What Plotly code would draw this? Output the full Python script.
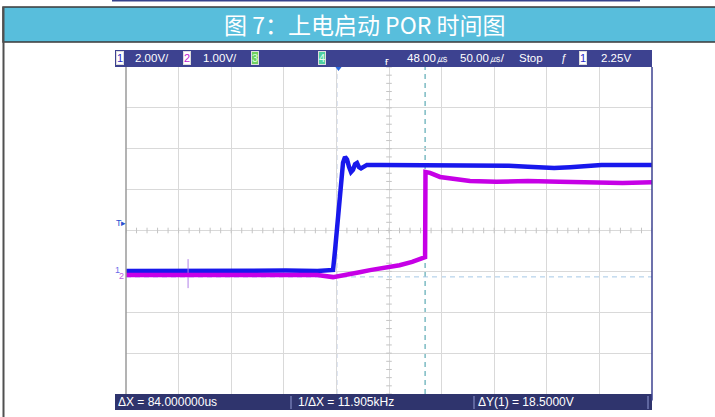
import plotly.graph_objects as go

# ---------------- scope settings ----------------
t_center = 48.0          # µs at screen centre
t_per_div = 50.0         # µs / div
n_xdiv, n_ydiv = 10, 8
ch1_v_per_div = 2.0
ch2_v_per_div = 1.0
ch1_ground_div = 3.01    # ground marker height above bottom, in divisions
ch2_ground_div = 2.91

# ---------------- data ----------------
ch1_t = [-202, -150, -100, -50, -20, -8, -5.2, -3.3, -1.4, 0.5, 2.4, 4.3, 6.2, 8.1, 10.0,
         11.9, 13.8, 15.7, 17.6, 19.5, 21.4, 23.3, 27, 40, 80, 120, 150, 162, 180, 195,
         205, 220, 235, 250, 270, 298]
ch1_v = [0.0, 0.02, 0.0, 0.02, 0.0, 0.02, 0.05, 1.0, 2.0, 3.1, 4.45, 5.3, 5.58, 5.45, 5.1,
         4.84, 4.95, 5.22, 5.28, 5.08, 5.02, 5.1, 5.19, 5.19, 5.19, 5.19, 5.19, 5.15, 5.1, 5.06,
         5.04, 5.08, 5.14, 5.19, 5.19, 5.19]

ch2_t = [-202, -150, -100, -50, -20, -5.2, 0, 6.2, 20, 30, 45, 58, 70, 81, 82.3, 82.7,
         87, 96.5, 110.7, 125, 150, 180, 210, 240, 270, 298]
ch2_v = [0.0, 0.0, 0.0, 0.0, 0.0, -0.05, -0.03, 0.0, 0.07, 0.12, 0.18, 0.24, 0.32, 0.42, 0.44,
         2.52, 2.50, 2.40, 2.35, 2.30, 2.28, 2.30, 2.28, 2.27, 2.25, 2.27]

glitch_t = [-143, -143]
glitch_v = [0.39, -0.32]

cursor_t = [-1.7, 82.3]          # X cursors (ΔX = 84 µs)
cursor_y_ch1 = -0.29             # Y cursor on channel 1

top_labels = ["2.00V/", "1.00V/", "48.00㎲", "50.00㎲/", "Stop", "2.25V"]
bottom_labels = ["ΔX = 84.000000us", "1/ΔX = 11.905kHz", "ΔY(1) = 18.5000V"]
title_text = "图 7：上电启动 POR 时间图"

# ---------------- geometry helpers (pixel -> paper) ----------------
W, H = 715, 417
L, R, T, B = 126, 652, 67, 394


def px(x):
    return (x - L) / (R - L)


def py(y):
    return (B - y) / (B - T)


x_range = [t_center - n_xdiv / 2 * t_per_div, t_center + n_xdiv / 2 * t_per_div]
y1_range = [-ch1_ground_div * ch1_v_per_div, (n_ydiv - ch1_ground_div) * ch1_v_per_div]
y2_range = [-ch2_ground_div * ch2_v_per_div, (n_ydiv - ch2_ground_div) * ch2_v_per_div]
y1_center = (y1_range[0] + y1_range[1]) / 2

BLUE = "#1818ec"
MAG = "#c600e6"

fig = go.Figure()

# centre-line minor ticks
mx = [t_center + k * t_per_div / 5 for k in range(-25, 26)]
fig.add_trace(go.Scatter(x=mx, y=[y1_center] * len(mx), mode="markers",
                         marker=dict(symbol="line-ns", size=4, line=dict(width=1, color="#c4c4c4")),
                         hoverinfo="skip", showlegend=False))
my = [y1_center + k * ch1_v_per_div / 5 for k in range(-20, 21)]
fig.add_trace(go.Scatter(x=[t_center] * len(my), y=my, mode="markers",
                         marker=dict(symbol="line-ew", size=4, line=dict(width=1, color="#c4c4c4")),
                         hoverinfo="skip", showlegend=False))

fig.add_trace(go.Scatter(x=glitch_t, y=glitch_v, yaxis="y2", mode="lines",
                         line=dict(color="#b080e8", width=1), hoverinfo="skip", showlegend=False))
fig.add_trace(go.Scatter(x=ch2_t, y=ch2_v, yaxis="y2", mode="lines",
                         line=dict(color=MAG, width=4.5), showlegend=False, name="CH2"))
fig.add_trace(go.Scatter(x=ch1_t, y=ch1_v, mode="lines",
                         line=dict(color=BLUE, width=4.5), showlegend=False, name="CH1"))

shapes = []
# top thin line of previous table
shapes.append(dict(type="line", xref="paper", yref="paper", x0=px(112), x1=px(640), y0=py(0.5), y1=py(0.5),
                   line=dict(color="#34418c", width=2)))
# title bar
shapes.append(dict(type="rect", xref="paper", yref="paper", x0=px(3), x1=px(717), y0=py(42), y1=py(7),
                   fillcolor="#58bedc", line=dict(color="#3a3a3a", width=1.5), layer="above"))
# left document border
shapes.append(dict(type="line", xref="paper", yref="paper", x0=px(3.5), x1=px(3.5), y0=py(7), y1=py(420),
                   line=dict(color="#505050", width=2)))
# scope top bar
shapes.append(dict(type="rect", xref="paper", yref="paper", x0=px(115), x1=px(652), y0=py(67), y1=py(50),
                   fillcolor="#3d4290", line=dict(width=0), layer="above"))
# scope bottom bar
shapes.append(dict(type="rect", xref="paper", yref="paper", x0=px(115), x1=px(652), y0=py(410), y1=py(394),
                   fillcolor="#2f346d", line=dict(width=0), layer="above"))
for sx in [291, 474, 648]:
    shapes.append(dict(type="line", xref="paper", yref="paper", x0=px(sx), x1=px(sx), y0=py(409), y1=py(396),
                       line=dict(color="#7077b0", width=1.5), layer="above"))
# grid frame
shapes.append(dict(type="line", xref="paper", yref="paper", x0=0, x1=0, y0=0, y1=1,
                   line=dict(color="#9a9a9a", width=1.5), layer="above"))
shapes.append(dict(type="line", xref="paper", yref="paper", x0=1, x1=1, y0=-0.02, y1=1,
                   line=dict(color="#3d4290", width=1.5), layer="above"))
# cursors
shapes.append(dict(type="line", xref="x", yref="paper", x0=cursor_t[0], x1=cursor_t[0], y0=0, y1=1,
                   line=dict(color="#6f8fc8", width=1, dash="5px,4px"), layer="between"))
shapes.append(dict(type="line", xref="x", yref="paper", x0=cursor_t[1], x1=cursor_t[1], y0=0, y1=1,
                   line=dict(color="#3a98a4", width=1, dash="5px,4px"), layer="between"))
shapes.append(dict(type="line", xref="paper", yref="y", x0=0, x1=1, y0=cursor_y_ch1, y1=cursor_y_ch1,
                   line=dict(color="#a6c8e6", width=1, dash="5px,4px"), layer="between"))
# trigger position marker
fig.add_trace(go.Scatter(x=[0], y=[y1_range[1]], mode="markers", cliponaxis=False,
                         marker=dict(symbol="triangle-down", size=8, color="#2a6ae0"),
                         hoverinfo="skip", showlegend=False))

ann = []
SF = "Liberation Sans"
ann.append(dict(xref="paper", yref="paper", x=px(364), y=py(24.5), xanchor="center", yanchor="middle",
                text=title_text, showarrow=False,
                font=dict(family="Noto Sans CJK SC", size=23, color="white")))


def box(xc, txt, fg, bg):
    ann.append(dict(xref="paper", yref="paper", x=px(xc), y=py(58.5), xanchor="center", yanchor="middle",
                    text=txt, showarrow=False, bgcolor=bg, font=dict(family=SF, size=11, color=fg),
                    borderpad=0, bordercolor="#dddddd", borderwidth=1))


def lab(xl, yc, txt, size=11.5, color="white"):
    ann.append(dict(xref="paper", yref="paper", x=px(xl), y=py(yc), xanchor="left", yanchor="middle",
                    text=txt, showarrow=False, font=dict(family=SF, size=size, color=color)))


box(119.5, "1", "#2a2ac8", "white")
lab(133, 58.5, top_labels[0])
box(186.5, "2", "#c020d0", "white")
lab(201, 58.5, top_labels[1])
box(255, "3", "#d8ffd8", "#70d060")
box(321.5, "4", "#e0fff0", "#50d0a0")
lab(383, 61, "ғ", size=11)
lab(405, 58.5, top_labels[2])
lab(458, 58.5, top_labels[3])
lab(517, 58.5, top_labels[4])
lab(559, 58.5, "ƒ", size=11)
box(582.5, "1", "#2a2ac8", "white")
lab(599, 58.5, top_labels[5])

lab(116, 402, bottom_labels[0], size=12)
lab(296, 402, bottom_labels[1], size=12)
lab(476, 402, bottom_labels[2], size=12)

# side markers
lab(114, 223, "T▸", size=9, color="#2a50d0")
lab(113, 270, "1", size=9, color="#6a6ae8")
lab(117, 276, "2", size=9, color="#c060e0")

fig.update_layout(
    width=W, height=H,
    margin=dict(l=L, r=W - R, t=T, b=H - B, pad=0),
    paper_bgcolor="white", plot_bgcolor="white",
    xaxis=dict(range=x_range, tick0=t_center, dtick=t_per_div, showgrid=True,
               gridcolor="#d9d9d9", gridwidth=1, showticklabels=False, zeroline=False,
               ticks="", showline=False, fixedrange=True),
    yaxis=dict(range=y1_range, tick0=y1_center, dtick=ch1_v_per_div, showgrid=True,
               gridcolor="#d9d9d9", gridwidth=1, showticklabels=False, zeroline=False,
               ticks="", showline=False, fixedrange=True),
    yaxis2=dict(range=y2_range, overlaying="y", showgrid=False, showticklabels=False,
                zeroline=False, ticks="", showline=False, fixedrange=True),
    shapes=shapes, annotations=ann, showlegend=False,
)

fig.write_html("out.html", config={"displayModeBar": False},
               post_script="document.body.style.margin='0';document.body.style.overflow='hidden';")
